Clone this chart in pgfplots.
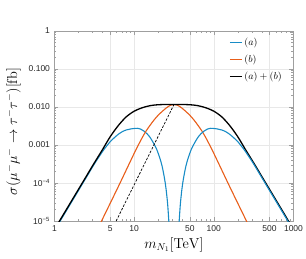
\documentclass[border=0pt]{standalone}
\usepackage[no-math]{fontspec}
\setmainfont{Liberation Sans}
\usepackage{pgfplots}
\pgfplotsset{compat=1.18}
\definecolor{cblue}{RGB}{24,140,198}
\definecolor{corange}{RGB}{232,94,26}
\begin{document}
\begin{tikzpicture}
\useasboundingbox (-54.5pt,-37pt) rectangle (251.5pt,221pt);
\begin{axis}[
  at={(0,0)}, anchor=south west,
  scale only axis, width=239pt, height=190pt,
  xmin=0, xmax=3, ymin=-5, ymax=0,
  xtick={0,0.69897,1,1.69897,2,2.69897,3},
  xticklabels={1,5,10,50,100,500,1000},
  minor xtick={0.30103,0.47712,0.60206,0.77815,0.84510,0.90309,0.95424,
               1.30103,1.47712,1.60206,1.77815,1.84510,1.90309,1.95424,
               2.30103,2.47712,2.60206,2.77815,2.84510,2.90309,2.95424},
  ytick={-5,-4,-3,-2,-1,0},
  yticklabels={10\textsuperscript{−5},10\textsuperscript{−4},0.001,0.010,0.100,1},
  minor ytick={-4.69897,-4.52288,-4.39794,-4.30103,-4.22185,-4.15490,-4.09691,-4.04576,
               -3.69897,-3.52288,-3.39794,-3.30103,-3.22185,-3.15490,-3.09691,-3.04576,
               -2.69897,-2.52288,-2.39794,-2.30103,-2.22185,-2.15490,-2.09691,-2.04576,
               -1.69897,-1.52288,-1.39794,-1.30103,-1.22185,-1.15490,-1.09691,-1.04576,
               -0.69897,-0.52288,-0.39794,-0.30103,-0.22185,-0.15490,-0.09691,-0.04576},
  grid=major,
  major grid style={gray!18, line width=0.5pt},
  axis line style={gray!75, line width=0.6pt},
  major tick length=4pt, minor tick length=2pt,
  every tick/.style={gray!75, line width=0.5pt},
  tick align=inside,
  tick label style={font=\fontsize{8.5}{10}\selectfont, text=black!85},
  xticklabel style={yshift=-1pt},
  yticklabel style={xshift=-1pt},
  xlabel={$m_{N_1}[\mathrm{TeV}]$},
  ylabel={$\sigma(\mu^-\mu^-\to\tau^-\tau^-)[\mathrm{fb}]$},
  label style={font=\fontsize{14}{16}\selectfont},
  xlabel style={at={(axis description cs:0.5,-0.125)}, anchor=center},
  ylabel style={at={(axis description cs:-0.172,0.47)}, anchor=center},
  legend style={draw=none, fill=none, at={(0.73,0.975)}, anchor=north west,
    font=\fontsize{10}{12}\selectfont, row sep=4pt, inner sep=0pt},
  legend cell align=left,
  legend image code/.code={\draw[#1] (0pt,0pt) -- (12pt,0pt);},
]
% (a)
\addplot[cblue, line width=1.1pt, smooth, tension=0.5] coordinates {
(0.0,-5.25)(0.1,-4.9)(0.2,-4.55)(0.3,-4.2)(0.4,-3.85)(0.5,-3.5)(0.6,-3.18)
(0.65,-3.04)(0.7,-2.91)(0.75,-2.81)(0.8,-2.72)(0.85,-2.65)(0.9,-2.605)
(0.95,-2.58)(1.0,-2.565)(1.04,-2.56)(1.08,-2.58)(1.12,-2.63)(1.16,-2.70)
(1.2,-2.80)(1.24,-2.94)(1.28,-3.10)(1.32,-3.33)(1.35,-3.55)(1.38,-3.87)
(1.4,-4.15)(1.42,-4.55)(1.435,-5.0)(1.45,-5.45)};
\addlegendentry{$(a)$}
% (b)
\addplot[corange, line width=1.1pt, smooth, tension=0.5] coordinates {
(0.5,-5.4)(0.6,-4.96)(0.7,-4.53)(0.8,-4.1)(0.9,-3.66)(0.95,-3.44)(1.0,-3.22)
(1.05,-3.01)(1.1,-2.81)(1.15,-2.63)(1.2,-2.48)(1.25,-2.34)(1.3,-2.22)
(1.35,-2.12)(1.4,-2.03)(1.45,-1.96)(1.5,-1.935)(1.55,-1.96)(1.6,-2.03)
(1.65,-2.12)(1.7,-2.22)(1.75,-2.34)(1.8,-2.48)(1.85,-2.63)(1.9,-2.81)
(1.95,-3.01)(2.0,-3.22)(2.05,-3.44)(2.1,-3.66)(2.2,-4.1)(2.3,-4.53)
(2.4,-4.96)(2.5,-5.4)};
\addlegendentry{$(b)$}
% (a)+(b)
\addplot[black, line width=1.3pt, smooth, tension=0.5] coordinates {
(0.0,-5.22)(0.1,-4.87)(0.2,-4.52)(0.3,-4.17)(0.4,-3.82)(0.5,-3.47)(0.6,-3.13)
(0.7,-2.78)(0.8,-2.49)(0.9,-2.26)(1.0,-2.11)(1.1,-2.02)(1.2,-1.965)(1.3,-1.94)
(1.4,-1.935)(1.5,-1.934)(1.6,-1.935)(1.7,-1.94)(1.8,-1.965)(1.9,-2.02)(2.0,-2.11)
(2.1,-2.26)(2.2,-2.49)(2.3,-2.78)(2.4,-3.13)(2.5,-3.47)(2.6,-3.82)(2.7,-4.17)
(2.8,-4.52)(2.9,-4.87)(3.0,-5.22)};
\addlegendentry{$(a)+(b)$}
% (a) right branch
\addplot[cblue, line width=1.1pt, smooth, tension=0.5, forget plot] coordinates {
(1.55,-5.45)(1.565,-5.0)(1.58,-4.55)(1.6,-4.15)(1.62,-3.87)(1.65,-3.55)
(1.68,-3.33)(1.72,-3.10)(1.76,-2.94)(1.8,-2.80)(1.84,-2.70)(1.88,-2.63)
(1.92,-2.58)(1.96,-2.56)(2.0,-2.565)(2.05,-2.58)(2.1,-2.605)(2.15,-2.65)
(2.2,-2.72)(2.25,-2.81)(2.3,-2.91)(2.35,-3.04)(2.4,-3.18)(2.5,-3.5)
(2.6,-3.85)(2.7,-4.2)(2.8,-4.55)(2.9,-4.9)(3.0,-5.25)};
% dashed
\addplot[black, line width=0.7pt, dash pattern=on 2.5pt off 1.5pt, forget plot] coordinates {
(0.774,-5)(1.5,-1.934)};
\end{axis}
\end{tikzpicture}
\end{document}
